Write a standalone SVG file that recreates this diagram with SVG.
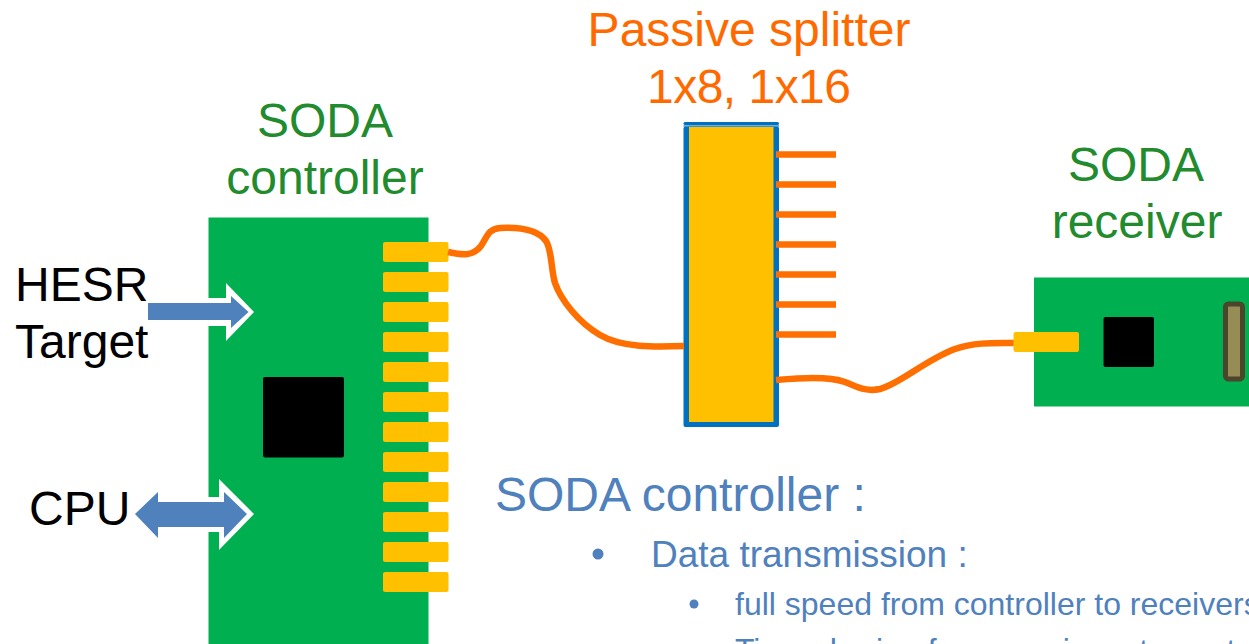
<svg xmlns="http://www.w3.org/2000/svg" width="1249" height="644" viewBox="0 0 1249 644">
<style>
text{font-family:"Liberation Sans",Arial,sans-serif}
.g{fill:#228b2e;font-size:48px;text-anchor:middle}
.o{fill:#ff6a00;font-size:48px;text-anchor:middle}
.k{fill:#000;font-size:48px}
.b{fill:#4f81bd}
.pcb{fill:#00b050}
.pad{fill:#ffc000}
.chip{fill:#000}
.w{fill:none;stroke:#ff6f00;stroke-width:6.500}
.halo{fill:#fff}
.arrow{fill:#4f81bd}
</style>
<rect width="1249" height="644" fill="#fff"/>
<g id="controller">
<rect class="pcb" x="208.500" y="217.500" width="220" height="430"/>
<rect class="chip" x="263" y="377" width="81" height="80.500" rx="2"/>
<g id="controller-pads">
<rect class="pad" x="383" y="242" width="65.500" height="20" rx="2"/>
<rect class="pad" x="383" y="272" width="65.500" height="20" rx="2"/>
<rect class="pad" x="383" y="302" width="65.500" height="20" rx="2"/>
<rect class="pad" x="383" y="332" width="65.500" height="20" rx="2"/>
<rect class="pad" x="383" y="362" width="65.500" height="20" rx="2"/>
<rect class="pad" x="383" y="392" width="65.500" height="20" rx="2"/>
<rect class="pad" x="383" y="422" width="65.500" height="20" rx="2"/>
<rect class="pad" x="383" y="452" width="65.500" height="20" rx="2"/>
<rect class="pad" x="383" y="482" width="65.500" height="20" rx="2"/>
<rect class="pad" x="383" y="512" width="65.500" height="20" rx="2"/>
<rect class="pad" x="383" y="542" width="65.500" height="20" rx="2"/>
<rect class="pad" x="383" y="572" width="65.500" height="20" rx="2"/>
</g>
<text class="g" x="325" y="137">SODA</text>
<text class="g" x="325" y="194">controller</text>
</g>
<g id="splitter">
<rect x="683.500" y="122" width="95.500" height="3" rx="1.500" fill="#0070c0"/>
<rect x="683.500" y="125" width="95.500" height="2" fill="#6fb0e0"/>
<rect x="683.500" y="126.500" width="95.500" height="300.500" rx="2" fill="#0070c0"/>
<rect class="pad" x="689" y="127" width="84.500" height="295"/>
<text class="o" x="749" y="46">Passive splitter</text>
<text class="o" x="749" y="103" textLength="204">1x8, 1x16</text>
</g>
<g id="receiver">
<rect class="pcb" x="1034" y="277.500" width="215" height="129"/>
<rect class="chip" x="1103.500" y="317" width="50.500" height="50" rx="2"/>
<rect x="1225.500" y="304" width="17" height="75" rx="3" fill="#968c55" stroke="#4b452c" stroke-width="5"/>
<text class="g" x="1136" y="181">SODA</text>
<text class="g" x="1137" y="238">receiver</text>
</g>
<g id="connectors">
<path class="w" d="M448 252C462 255 472 257 481 246C487 237 488 229 500 228C520 227 538 230 546 241C552 250 551 270 555 283C561 300 578 322 600 335C622 348 655 347 684 346"/>
<path class="w" d="M776 380C800 378 828 376 845 382C858 387 866 392 880 389C900 384 925 360 955 349C975 342 995 343 1014 343"/>
<path class="w" d="M776 154.500H836M776 184.500H836M776 214.500H836M776 244.500H836M776 274.500H836M776 304.500H836M776 334.500H836"/>
</g>
<g id="receiver-plug"><rect class="pad" x="1013.500" y="332" width="65.500" height="20" rx="2"/></g>
<g id="hesr-input">
<text class="k" x="15" y="301">HESR</text>
<text class="k" x="15" y="358">Target</text>
<path class="halo" d="M148 298H226V283L254 312L226 341V326H148Z"/>
<path class="arrow" d="M148 303H231V296L248.500 312L231 328V320H148Z"/>
</g>
<g id="cpu-link">
<text class="k" x="29" y="525">CPU</text>
<path class="halo" d="M128 514L158 486V497H219V479L254 514L219 550V532H158V542Z"/>
<path class="arrow" d="M135 514L158 492V502H224V492L247 514L224 538V527H158V538Z"/>
</g>
<g id="description" class="b">
<text x="495" y="511" font-size="48" fill="#4f81bd">SODA controller :</text>
<circle cx="598" cy="554" r="5.500"/>
<text x="651" y="567" font-size="37">Data transmission :</text>
<circle cx="694" cy="604" r="4.500"/>
<text x="735" y="615" font-size="32">full speed from controller to receivers</text>
<text x="735" y="661" font-size="32">Time sharing from receivers to controller</text>
</g>
</svg>
